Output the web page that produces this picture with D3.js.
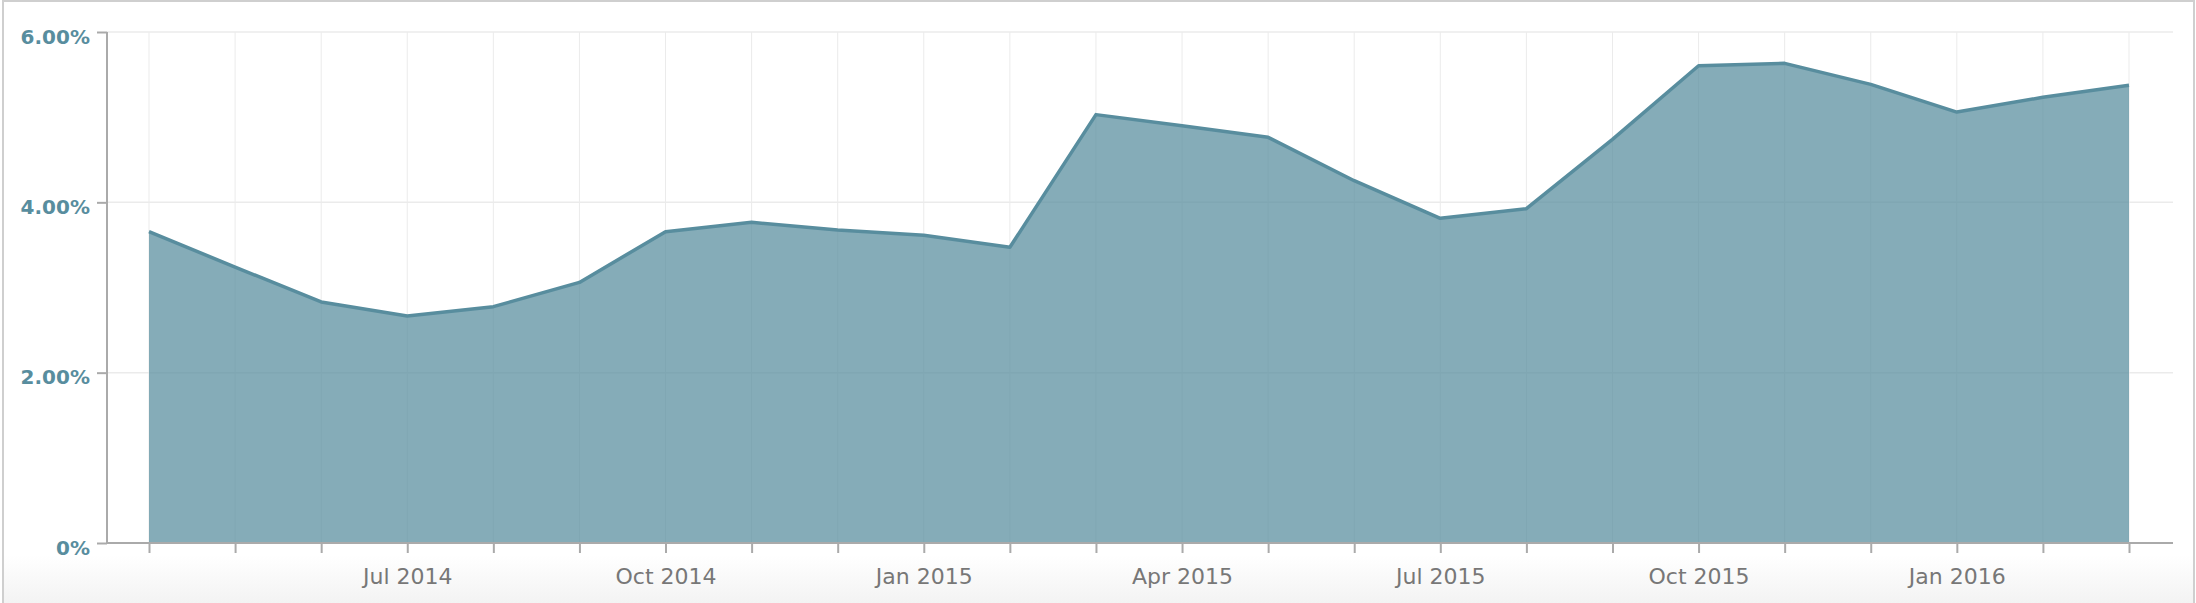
<!DOCTYPE html>
<html>
<head>
<meta charset="utf-8">
<script src="https://cdn.jsdelivr.net/npm/d3@7"></script>
<style>
  html, body { margin: 0; padding: 0; background: #fff; }
  svg { display: block; }
</style>
</head>
<body>
<svg id="chart" width="2196" height="603"></svg>
<script>
const months = ["Apr 2014","May 2014","Jun 2014","Jul 2014","Aug 2014","Sep 2014","Oct 2014","Nov 2014","Dec 2014",
  "Jan 2015","Feb 2015","Mar 2015","Apr 2015","May 2015","Jun 2015","Jul 2015","Aug 2015","Sep 2015","Oct 2015","Nov 2015","Dec 2015",
  "Jan 2016","Feb 2016","Mar 2016"];
const values = [3.655, 3.24, 2.83, 2.665, 2.775, 3.06, 3.655, 3.765, 3.675,
  3.613, 3.472, 5.03, 4.90, 4.763, 4.254, 3.812, 3.925, 4.74, 5.604, 5.632, 5.385,
  5.06, 5.233, 5.374];
const labeledTicks = ["Jul 2014","Oct 2014","Jan 2015","Apr 2015","Jul 2015","Oct 2015","Jan 2016"];
const yTicks = [0, 2, 4, 6];

const W = 2196, H = 603;
const plot = { left: 107, right: 2173, top: 32, bottom: 543 };
const lineColor = "#588d9e";

const svg = d3.select("#chart");

// background bottom fade + frame
const defs = svg.append("defs");
const grad = defs.append("linearGradient").attr("id", "fade").attr("x1", 0).attr("y1", 0).attr("x2", 0).attr("y2", 1);
grad.append("stop").attr("offset", "0%").attr("stop-color", "#ffffff");
grad.append("stop").attr("offset", "100%").attr("stop-color", "#f3f3f3");
svg.append("rect").attr("x", 3).attr("y", 555).attr("width", 2190).attr("height", 48).attr("fill", "url(#fade)");
svg.append("path").attr("d", `M3,${H} V1 H2194 V${H}`).attr("fill", "none").attr("stroke", "#cfcfcf").attr("stroke-width", 2);

const x = d3.scalePoint().domain(months).range([149, 2129]);
const y = d3.scaleLinear().domain([0, 6]).range([plot.bottom, plot.top]);

// grid
const grid = svg.append("g");
grid.selectAll("line.v").data(months).join("line")
  .attr("x1", d => x(d)).attr("x2", d => x(d))
  .attr("y1", plot.top).attr("y2", plot.bottom)
  .attr("stroke", "#ebebeb").attr("stroke-width", 1);
grid.selectAll("line.h").data(yTicks.filter(v => v > 0)).join("line")
  .attr("x1", plot.left).attr("x2", plot.right)
  .attr("y1", d => y(d)).attr("y2", d => y(d))
  .attr("stroke", "#ebebeb").attr("stroke-width", 1.5);

// area + line
const data = months.map((m, i) => ({ m, v: values[i] }));
svg.append("path").datum(data)
  .attr("d", d3.area().x(d => x(d.m)).y0(y(0)).y1(d => y(d.v)))
  .attr("fill", lineColor).attr("fill-opacity", 0.73);
svg.append("path").datum(data)
  .attr("d", d3.line().x(d => x(d.m)).y(d => y(d.v)))
  .attr("fill", "none").attr("stroke", lineColor).attr("stroke-width", 3.5)
  .attr("stroke-linejoin", "round");

// x axis
const xAxis = svg.append("g").attr("transform", `translate(0,${plot.bottom})`)
  .call(d3.axisBottom(x).tickSize(10).tickPadding(15)
    .tickFormat(d => labeledTicks.includes(d) ? d : ""));
xAxis.select(".domain").remove();
xAxis.selectAll(".tick line").attr("stroke", "#aaa").attr("stroke-width", 2);
xAxis.selectAll(".tick text")
  .attr("fill", "#777").style("font-family", "'DejaVu Sans', sans-serif").style("font-size", "22px");
svg.append("line").attr("x1", plot.left).attr("x2", plot.right)
  .attr("y1", plot.bottom).attr("y2", plot.bottom)
  .attr("stroke", "#aaa").attr("stroke-width", 2);

// y axis
const yAxis = svg.append("g").attr("transform", `translate(${plot.left},0)`)
  .call(d3.axisLeft(y).tickValues(yTicks).tickSize(10).tickPadding(7)
    .tickFormat(v => v === 0 ? "0%" : v.toFixed(2) + "%"));
yAxis.select(".domain").remove();
yAxis.selectAll(".tick line").attr("stroke", "#aaa").attr("stroke-width", 2);
yAxis.selectAll(".tick text")
  .attr("fill", "#588d9e").attr("dy", "0.75em").attr("y", -4)
  .style("font-family", "'DejaVu Sans', sans-serif").style("font-size", "20px").style("font-weight", "bold");
svg.append("line").attr("x1", plot.left).attr("x2", plot.left)
  .attr("y1", plot.top).attr("y2", plot.bottom + 1)
  .attr("stroke", "#aaa").attr("stroke-width", 2);
</script>
</body>
</html>
